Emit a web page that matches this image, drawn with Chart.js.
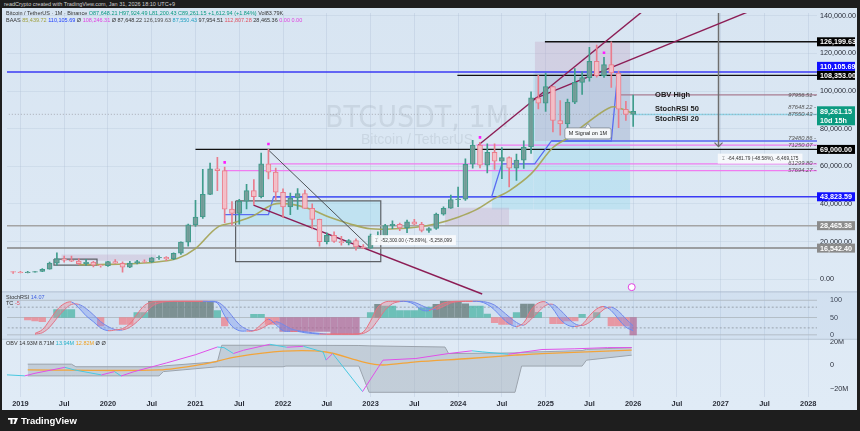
<!DOCTYPE html>
<html>
<head>
<meta charset="utf-8">
<script src="https://cdn.jsdelivr.net/npm/chart.js@4.4.1/dist/chart.umd.min.js"></script>
<style>
  body { margin: 0; width: 860px; height: 431px; background: #1e1e1e; overflow: hidden; position: relative;
         font-family: "Liberation Sans", Arial, sans-serif; }
  #wrap { position: absolute; left: 2px; top: 8px; width: 855px; height: 402px; background: linear-gradient(#d8e5f2, #e0ebf6); }
  .t { position: absolute; white-space: nowrap; font-size: 5.5px; color: #333; line-height: 6px; }
  #foot { position: absolute; left: 8px; top: 415px; color: #fff; font: bold 9.5px "Liberation Sans", Arial, sans-serif; }
  #foot i { display: inline-block; width: 10px; height: 6px; background: #fff; margin-right: 3px; vertical-align: 0; clip-path: polygon(0 0,45% 0,45% 100%,25% 100%,25% 30%,0 30%,0 0, 55% 0, 100% 0, 75% 100%, 55% 100%, 70% 30%); }
</style>
</head>
<body>
<div class="t" style="left:4px;top:1px;color:#cfcfcf;">readCrypto created with TradingView.com, Jan 31, 2026 18:10 UTC+9</div>
<div id="wrap"><canvas id="c" width="855" height="402"></canvas></div>
<div class="t" style="left:6px;top:10px;">Bitcoin / TetherUS · 1M · Binance <span style="color:#089981">O87,648.21 H97,924.49 L81,200.43 C89,261.15 +1,612.94 (+1.84%)</span> Vol83.79K</div>
<div class="t" style="left:6px;top:17px;">BAAS <span style="color:#a0a040">85,439.72</span> <span style="color:#2040ff">110,105.69</span> Ø <span style="color:#e040e0">108,246.31</span> Ø 87,648.22 <span style="color:#555">126,199.63</span> <span style="color:#20a0c0">87,550.43</span> 97,954.51 <span style="color:#e05060">112,807.28</span> 28,465.36 <span style="color:#e040e0">0.00 0.00</span></div>
<div class="t" style="left:6px;top:294px;">StochRSI <span style="color:#4060e0">14.07</span></div>
<div class="t" style="left:6px;top:300px;">TC <span style="color:#e05060">-5</span></div>
<div class="t" style="left:6px;top:340px;">OBV 14.93M 8.71M <span style="color:#20b0c8">13.94M</span> <span style="color:#f0a020">12.82M</span> Ø Ø</div>
<div id="foot"><i></i>TradingView</div>
<script>
// ---- monthly candles ----
const months = [
  '2018-12',
  '2019-01','2019-02','2019-03','2019-04','2019-05','2019-06','2019-07','2019-08','2019-09','2019-10','2019-11','2019-12',
  '2020-01','2020-02','2020-03','2020-04','2020-05','2020-06','2020-07','2020-08','2020-09','2020-10','2020-11','2020-12',
  '2021-01','2021-02','2021-03','2021-04','2021-05','2021-06','2021-07','2021-08','2021-09','2021-10','2021-11','2021-12',
  '2022-01','2022-02','2022-03','2022-04','2022-05','2022-06','2022-07','2022-08','2022-09','2022-10','2022-11','2022-12',
  '2023-01','2023-02','2023-03','2023-04','2023-05','2023-06','2023-07','2023-08','2023-09','2023-10','2023-11','2023-12',
  '2024-01','2024-02','2024-03','2024-04','2024-05','2024-06','2024-07','2024-08','2024-09','2024-10','2024-11','2024-12',
  '2025-01','2025-02','2025-03','2025-04','2025-05','2025-06','2025-07','2025-08','2025-09','2025-10','2025-11','2025-12',
  '2026-01'
]
const opens = [4017,
  3742, 3458, 3813, 4105, 5320, 8574, 10818, 10080, 9590, 8290, 9150, 7540,
  7190, 9370, 8520, 6410, 8620, 9450, 9140, 11350, 11650, 10780, 13790, 19700,
  28920, 33090, 45130, 58740, 57690, 37250, 35040, 41460, 47100, 43820, 61300, 56950,
  46220, 38470, 43160, 45510, 37630, 31800, 19940, 23300, 20050, 19420, 20490, 17160,
  16540, 23130, 23140, 28470, 29230, 27210, 30470, 29230, 25940, 26960, 34640, 37720,
  42280, 42580, 61130, 71290, 60670, 67490, 62770, 64630, 58970, 63330, 70290, 96410,
  93580, 102430, 84350, 82550, 94170, 104590, 107140, 115760, 108250, 114050, 109600, 90360,
  87648]
const highs = [4236,
  4140, 4200, 4140, 5600, 9100, 13970, 12250, 12330, 10950, 10540, 9520, 7750,
  9580, 10500, 9200, 9470, 10070, 10380, 11450, 12490, 12070, 14100, 19860, 29300,
  41950, 58350, 61780, 64850, 59600, 41330, 42450, 50500, 52920, 67000, 69000, 59100,
  47990, 45820, 48190, 47440, 40020, 31990, 24670, 25210, 22800, 21080, 21480, 18390,
  23950, 25250, 29180, 31000, 29820, 31430, 31800, 30200, 27480, 35200, 38450, 44730,
  48970, 63970, 73780, 72800, 71980, 71950, 70020, 65000, 66500, 73600, 99590, 108350,
  109590, 102500, 95000, 95760, 111980, 110400, 123220, 124470, 117900, 126200, 110600, 94600,
  97924]
const lows = [3156,
  3350, 3400, 3732, 4080, 5330, 7450, 9040, 9350, 7710, 7300, 6520, 6430,
  6850, 8420, 3780, 6150, 8100, 8830, 8890, 10520, 9880, 10370, 13200, 17570,
  28130, 32300, 44950, 47040, 30000, 28800, 29280, 37330, 39600, 43280, 53260, 42000,
  32920, 34320, 37150, 37700, 26700, 17620, 18780, 19520, 18120, 18190, 15480, 16260,
  16500, 21350, 19550, 26940, 25810, 24800, 28860, 25170, 24900, 26540, 34100, 37600,
  38550, 41880, 59000, 59190, 56550, 58400, 53500, 49000, 52550, 58900, 66840, 90500,
  89160, 78250, 76600, 74500, 93350, 98200, 105270, 107350, 107250, 102000, 80600, 84400,
  81200]
const closes = [3742,
  3458, 3813, 4105, 5320, 8574, 10818, 10080, 9590, 8290, 9150, 7540, 7190,
  9370, 8520, 6410, 8620, 9450, 9140, 11350, 11650, 10780, 13790, 19700, 28920,
  33090, 45130, 58740, 57690, 37250, 35040, 41460, 47100, 43820, 61300, 56950, 46220,
  38470, 43160, 45510, 37630, 31800, 19940, 23300, 20050, 19420, 20490, 17160, 16540,
  23130, 23140, 28470, 29230, 27210, 30470, 29230, 25940, 26960, 34640, 37720, 42280,
  42580, 61130, 71290, 60670, 67490, 62770, 64630, 58970, 63330, 70290, 96410, 93580,
  102430, 84350, 82550, 94170, 104590, 107140, 115760, 108250, 114050, 109600, 90360, 87648,
  89261]

// ---- overlays on price (x = months since 2019-01) ----
const maMonths = [8, 12, 16, 19, 21.5, 24, 27, 29.5, 32, 34.7, 37, 39.7, 42.4, 45.2, 48, 51.4, 54.2, 57, 60, 62.5, 65, 67, 70, 73, 75, 78, 81, 82.5, 84]
const maValues = [7700, 7900, 8400, 9300, 11000, 16300, 27600, 30300, 33900, 39900, 39900, 37300, 32900, 29400, 26800, 26800, 27600, 29500, 33000, 37000, 43000, 47000, 56000, 70000, 75000, 84000, 91500, 90500, 88000]
const stepMonths = [27.9, 34, 34.7, 64.6, 66, 70.5, 72.8, 81, 81.9, 82.6]
const stepValues = [34300, 34300, 43823.59, 43823.59, 61299.8, 61299.8, 73480.86, 73480.86, 110105.69, 110105.69]

const levels = [126199.63, 110105.69, 108353.00, 69000.00, 43823.59, 28465.36, 16542.40]
const levelFrom = [71.9, -2, 59.9, 24, 34.7, -2, -2]
const minorLevels = [97956.51, 87648.22, 87550.43, 73480.86, 71250.07, 61299.80, 57694.27]
const minorFrom = [82.1, -2, 83.9, 72.8, 62.5, 34.3, 28]
const lastPrice = 89261.15
const lastCountdown = '10d 15h'

const trendA = [[62.8, 71350], [86, 144600]]
const trendB = [[70, 95200], [100, 142500]]
const trendC = [[31.95, 39350], [63.3, -7850]]
const trendD = [[34, 68700], [47.85, 17200]]
const measure = [[95.7, 141500], [95.7, 70500]]

const pivotMonths = [28, 34, 63, 80]
const pivotPrices = [62100, 71900, 75400, 120400]

// [from month, to month, top, bottom]
const cyanBoxes = [[29.5, 49.4, 41600, 28500], [70.3, 83.6, 110100, 37000], [64.6, 70.3, 61300, 37000]]
const mauveBoxes = [[70.5, 83.6, 126200, 73500], [58.2, 67, 38000, 28500], [5.6, 18.6, 13200, 9800]]
const outlineBoxes = [[29.5, 49.4, 41600, 9400], [4.6, 10.5, 10700, 7500]]

// ---- StochRSI pane (aligned with months) ----
const stochK = [null, null, null, 4, 15, 42, 72, 90, 95, 78, 55, 38, 20,
  12, 14, 18, 32, 60, 85, 95, 97, 97, 97, 97, 97,
  97, 97, 96, 92, 55, 25, 12, 11, 12, 30, 45, 30,
  12, 10, 10, 6, 4, 2, 2, 2, 2, 2, 2, 8,
  40, 80, 95, 97, 97, 96, 88, 72, 70, 82, 92, 96,
  97, 97, 97, 96, 88, 72, 50, 32, 24, 35, 72, 92,
  95, 75, 45, 28, 24, 30, 55, 75, 82, 70, 45, 22,
  12]
const stochD = [null, null, null, 2, 6, 22, 48, 72, 88, 88, 76, 58, 38,
  24, 15, 14, 22, 38, 60, 82, 92, 96, 97, 97, 97,
  97, 97, 97, 95, 80, 55, 30, 16, 12, 18, 30, 38,
  30, 18, 12, 9, 6, 4, 2, 2, 2, 2, 2, 4,
  16, 42, 72, 90, 96, 97, 94, 85, 76, 74, 82, 92,
  96, 97, 97, 97, 94, 86, 70, 52, 36, 28, 45, 66,
  85, 88, 72, 50, 32, 27, 36, 55, 74, 80, 68, 46,
  26]
const stochHist = [null, null, 43, 40, 38, null, 73, 73, 73, null, null, null, 26,
  null, null, 30, 30, 64, 64, 97, 97, 97, 97, 97, 97,
  97, 97, 97, 70, 26, null, null, null, 59, 59, 30, 30,
  10, 10, 10, 10, 10, 10, 10, 2, 2, 2, 2, null,
  64, 88, 83, 83, 70, 70, 70, 78, 80, 88, 97, 97,
  97, 90, 83, 83, 60, 35, 30, 30, 64, 89, 89, 65,
  null, 32, 32, 40, 40, 59, null, 64, null, 26, 26, 26]
const stochLevels = [100, 80, 50, 20, 0]

// ---- OBV pane (millions) ----
const obvMonths = [-2, 0.6, 2, 6.1, 7.4, 11.1, 12.9, 13.8, 15.6, 20, 24, 27, 27.9, 29.2, 30.6, 34.2, 36.5, 38.8, 41.5, 41.9, 42.8, 46.9, 49.7, 54.2, 58.7, 61.9, 63.3, 66.9, 71.5, 76, 80.5, 83.8]
const obvValues = [-8, -8.9, -6.7, -1.7, -3.9, -8.1, -5.3, -9, -5.3, 2, 9, 15.5, 15, 10, 12.8, 17.8, 15.3, 16.1, 11.3, 4.4, 10, -22.2, 4.4, 5.8, 10, 12.3, 11.4, 9.4, 13.4, 14, 15, 15]
const obvMaMonths = [1, 19, 25.1, 29.6, 36, 41.9, 46.9, 49.7, 54.2, 61.5, 67.8, 71.5, 83.8]
const obvMaValues = [-3.9, -3.9, 1.1, 7.2, 12, 11.3, 3, 0.3, 3, 5.8, 8.6, 10, 12.8]
const bandMonths = [1, 7, 7.6, 19, 19.6, 27, 27.6, 36, 36.4, 46.4, 47.8, 58.2, 58.7, 67.8, 68.7, 77, 77.6, 83.8]
const bandUpper = [1, 1, -1.2, -1.2, -0.5, 3, 17, 17, 17, 16.8, 16.5, 15.5, 10, 10.5, 11, 12.5, 13.5, 15]
const bandLower = [-8.9, -8.9, -8.9, -8.9, -5.3, -1.2, -1.2, -1.2, -0.6, -0.6, -22.8, -22.8, -22.8, -22.8, -0.6, -0.6, 4.4, 8.6]

// ---------------------------------------------------------------
const mIdx = s => (+s.slice(0, 4) - 2019) * 12 + (+s.slice(5, 7) - 1)
const xs = months.map(mIdx)
const X_MIN = -1.84, X_MAX = 109.2
const pts = (ms, vs) => ms.map((m, i) => ({ x: m, y: vs[i] })).filter(p => p.y !== null)
const seg = pair => pair.map(p => ({ x: p[0], y: p[1] }))
const hline = (v, from) => [{ x: from, y: v }, { x: X_MAX + 1, y: v }]
const rect = b => [{ x: b[0], y: b[2] }, { x: b[1], y: b[2] }, { x: b[1], y: b[3] }, { x: b[0], y: b[3] }, { x: b[0], y: b[2] }]

const up = closes.map((c, i) => c >= opens[i])
const bodyFill = up.map(u => u ? 'rgba(120,155,152,0.85)' : 'rgba(244,196,204,0.9)')
const bodyLine = up.map(u => u ? '#3f9c8c' : '#e97c8c')

const line = (data, color, width, extra) => Object.assign({
  type: 'line', data, borderColor: color, borderWidth: width, pointRadius: 0, tension: 0,
  yAxisID: 'y', fill: false, order: 5
}, extra || {})

const datasets = []

cyanBoxes.forEach(b => datasets.push(line([{ x: b[0], y: b[2] }, { x: b[1], y: b[2] }], 'transparent', 0,
  { fill: { value: b[3] }, backgroundColor: 'rgba(140,215,235,0.35)', order: 20 })))
mauveBoxes.forEach(b => datasets.push(line([{ x: b[0], y: b[2] }, { x: b[1], y: b[2] }], 'transparent', 0,
  { fill: { value: b[3] }, backgroundColor: 'rgba(190,150,185,0.28)', order: 19 })))
outlineBoxes.forEach(b => datasets.push(line(rect(b), '#5d6166', 1.2, { order: 18 })))

levels.forEach((v, i) => {
  const colors = ['#111', '#3a3af5', '#111', '#111', '#3a3af5', '#a4a4a4', '#858585']
  datasets.push(line(hline(v, levelFrom[i]), colors[i], i === 5 || i === 6 ? 1.5 : 1.4, { order: 12 }))
})
minorLevels.forEach((v, i) => {
  const colors = ['#a87d92', '#9aa0a8', '#8fd6ea', '#5866f0', '#f07cf0', '#f07cf0', '#f07cf0']
  datasets.push(line(hline(v, minorFrom[i]), colors[i], i === 1 ? 0.8 : 1.3,
    { order: 12, borderDash: i === 1 ? [1, 2] : [] }))
})

datasets.push(line(pts(stepMonths, stepValues), '#5a6cf2', 1.3, { order: 9 }))
datasets.push(line(pts(maMonths, maValues), 'rgba(165,165,90,0.95)', 1.6, { order: 8, tension: 0.35 }))
datasets.push(line(seg(trendA), '#8c1d55', 1.4, { order: 7 }))
datasets.push(line(seg(trendB), '#8c1d55', 1.4, { order: 7 }))
datasets.push(line(seg(trendC), '#8c1d55', 1.4, { order: 7, clip: false }))
datasets.push(line(seg(trendD), '#4d5358', 1, { order: 7 }))
datasets.push(line(seg(measure), '#6e6e6e', 1.5, { order: 7 }))

datasets.push({
  type: 'bar', data: xs.map((x, i) => ({ x, y: [lows[i], highs[i]] })), yAxisID: 'y',
  backgroundColor: bodyLine, barThickness: 1, grouped: false, order: 3
})
datasets.push({
  type: 'bar', data: xs.map((x, i) => ({ x, y: [opens[i], closes[i]] })), yAxisID: 'y',
  backgroundColor: bodyFill, borderColor: bodyLine, borderWidth: 1, borderSkipped: false,
  barThickness: 5, grouped: false, order: 2
})
datasets.push({
  type: 'scatter', data: pts(pivotMonths, pivotPrices), yAxisID: 'y',
  pointStyle: 'rect', pointRadius: 1.8, backgroundColor: '#ff1aff', borderWidth: 0, order: 1
})
datasets.push({
  type: 'scatter', data: [{ x: 83.8, y: -4200 }], yAxisID: 'y', clip: false,
  pointStyle: 'circle', pointRadius: 3.5, backgroundColor: '#fff', borderColor: '#e040e0', borderWidth: 1, order: 1
})

// StochRSI
const histColor = v => v >= 85 ? 'rgba(110,130,130,0.85)' : v > 50 ? 'rgba(75,180,165,0.75)' : v > 15 ? 'rgba(240,120,130,0.7)' : 'rgba(175,100,145,0.7)'
datasets.push({
  type: 'bar', yAxisID: 'ys', grouped: false, barThickness: 6.6, order: 6,
  data: xs.map((x, i) => ({ x, y: stochHist[i] === null ? null : [50, stochHist[i]] })).filter(p => p.y !== null),
  backgroundColor: xs.map((x, i) => stochHist[i]).filter(v => v !== null).map(histColor)
})
stochLevels.forEach(v => datasets.push(line(hline(v, X_MIN - 1), v === 80 || v === 20 ? '#9aa3ad' : '#b3bcc6', 1,
  { yAxisID: 'ys', borderDash: v === 80 || v === 20 ? [2, 2] : [], order: 15 })))
const trendColor = ctx => ctx.p1.parsed.y >= ctx.p0.parsed.y ? '#e8707e' : '#6a88ef'
datasets.push(line(pts(xs, stochK), '#6a88ef', 1, {
  yAxisID: 'ys', tension: 0.35, order: 4, segment: { borderColor: trendColor },
  fill: { target: '+1', above: 'rgba(240,130,140,0.35)', below: 'rgba(110,140,240,0.35)' }
}))
datasets.push(line(pts(xs, stochD), '#e8707e', 1, { yAxisID: 'ys', tension: 0.35, order: 4, segment: { borderColor: trendColor } }))

// OBV
datasets.push(line(pts(bandMonths, bandUpper), '#9aa2ab', 1, {
  yAxisID: 'yo', order: 10, fill: { target: '+1' }, backgroundColor: 'rgba(160,170,182,0.45)'
}))
datasets.push(line(pts(bandMonths, bandLower), '#9aa2ab', 1, { yAxisID: 'yo', order: 10 }))
datasets.push(line(pts(obvMaMonths, obvMaValues), '#f2a43a', 1.3, { yAxisID: 'yo', order: 4, tension: 0.3 }))
datasets.push(line(pts(obvMonths, obvValues), '#e050e8', 1, {
  yAxisID: 'yo', order: 3,
  segment: { borderColor: ctx => ctx.p1.parsed.y >= ctx.p0.parsed.y ? '#e050e8' : '#48c8e0' }
}))

// ---------------------------------------------------------------
const fixSize = (w, h) => s => {
  if (w) s.width = w
  if (h) s.height = h
  s.paddingTop = 0; s.paddingBottom = 0; s.paddingLeft = 0; s.paddingRight = 0
}
const tickFont = { family: '"Liberation Sans", Arial, sans-serif', size: 7.2 }

const drawLabelBox = (ctx, y, h, bg, lines, x0, w) => {
  ctx.fillStyle = bg
  ctx.fillRect(x0, y - h / 2, w, h)
  ctx.fillStyle = '#fff'
  ctx.font = 'bold 7.2px "Liberation Sans", Arial, sans-serif'
  ctx.textAlign = 'left'
  ctx.textBaseline = 'middle'
  lines.forEach((t, k) => ctx.fillText(t, x0 + 3, y - (lines.length - 1) * 4.5 + k * 9 + 0.5))
}
const spread = items => {
  items.sort((a, b) => b.y - a.y)
  for (let k = 1; k < items.length; k++) {
    const lim = items[k - 1].y - (items[k - 1].h + items[k].h) / 2
    if (items[k].y > lim) items[k].y = lim
  }
  return items
}
const fmt = v => v.toLocaleString('en-US', { minimumFractionDigits: 2, maximumFractionDigits: 2 })

const overlay = {
  id: 'overlay',
  beforeDatasetsDraw(chart) {
    const { ctx, chartArea, scales } = chart
    const s = scales.ys, o = scales.yo
    ctx.save()
    ctx.fillStyle = 'rgba(150,180,215,0.16)'
    ctx.fillRect(0, s.top, chart.width, s.bottom - s.top)
    ctx.strokeStyle = 'rgba(150,165,185,0.55)'
    ctx.lineWidth = 1
    ctx.beginPath()
    ctx.moveTo(0, s.top + 0.5); ctx.lineTo(chart.width, s.top + 0.5)
    ctx.moveTo(0, o.top + 0.5); ctx.lineTo(chart.width, o.top + 0.5)
    ctx.stroke()
    // watermark
    const cx = (chartArea.left + chartArea.right) / 2 + 5
    ctx.textAlign = 'center'
    ctx.textBaseline = 'alphabetic'
    ctx.fillStyle = 'rgba(120,130,145,0.17)'
    ctx.font = '30px "Liberation Sans Narrow", "DejaVu Sans Condensed", "Liberation Sans", sans-serif'
    ctx.fillText('BTCUSDT, 1M', cx, 119)
    ctx.font = '14px "Liberation Sans", Arial, sans-serif'
    ctx.fillText('Bitcoin / TetherUS', cx, 136)
    ctx.restore()
  },
  afterDatasetsDraw(chart) {
    const { ctx, scales } = chart
    const X = scales.x, Y = scales.y
    ctx.save()
    // arrow head of the measure line
    const ax = X.getPixelForValue(measure[1][0]), ay = Y.getPixelForValue(measure[1][1])
    ctx.strokeStyle = '#6e6e6e'; ctx.lineWidth = 1.2
    ctx.beginPath(); ctx.moveTo(ax - 4, ay - 4); ctx.lineTo(ax, ay); ctx.lineTo(ax + 4, ay - 4); ctx.stroke()

    ctx.font = 'bold 7.5px "Liberation Sans", Arial, sans-serif'
    ctx.fillStyle = '#1a1a1a'
    ctx.textAlign = 'left'; ctx.textBaseline = 'middle'
    const tx = X.getPixelForValue(87)
    ctx.fillText('OBV High', tx, Y.getPixelForValue(minorLevels[0]))
    ctx.fillText('StochRSI 50', tx, Y.getPixelForValue(minorLevels[1]) - 5)
    ctx.fillText('StochRSI 20', tx, Y.getPixelForValue(minorLevels[2]) + 4)

    // callout
    const callX = X.getPixelForValue(77.8), callY = Y.getPixelForValue(77500)
    ctx.font = '5.5px "Liberation Sans", Arial, sans-serif'
    const cw = ctx.measureText('M Signal on 1M').width + 8
    ctx.fillStyle = '#f4f7fa'; ctx.strokeStyle = '#7d8790'; ctx.lineWidth = 0.8
    ctx.beginPath()
    ctx.roundRect(callX - cw / 2, callY - 5.5, cw, 11, 2)
    ctx.fill(); ctx.stroke()
    ctx.beginPath(); ctx.moveTo(callX - 3, callY - 5.5); ctx.lineTo(callX, callY - 10); ctx.lineTo(callX + 3, callY - 5.5)
    ctx.fill(); ctx.stroke()
    ctx.fillStyle = '#222'; ctx.textAlign = 'center'
    ctx.fillText('M Signal on 1M', callX, callY + 0.5)

    // measurement notes
    const notes = [[53.9, 20800, '\u2336  -52,300.00 (-75.89%), -5,258,099'], [101.4, 64100, '\u2336  -64,481.79 (-48.58%), -6,469,175']]
    ctx.font = '4.8px "Liberation Sans", Arial, sans-serif'
    notes.forEach(n => {
      const nx = X.getPixelForValue(n[0]), ny = Y.getPixelForValue(n[1])
      const w = ctx.measureText(n[2]).width + 8
      ctx.fillStyle = 'rgba(248,250,252,0.92)'
      ctx.fillRect(nx - w / 2, ny - 5, w, 10)
      ctx.fillStyle = '#333'
      ctx.fillText(n[2], nx, ny + 0.5)
    })
    ctx.restore()
  },
  afterDraw(chart) {
    const { ctx, chartArea, scales } = chart
    const Y = scales.y
    const x0 = chartArea.right, w = chart.width - chartArea.right - 2
    ctx.save()
    // small value notes next to the scale
    const minor = spread(minorLevels.map(v => ({ v, y: Y.getPixelForValue(v), h: 7 })))
    ctx.font = 'italic 5.8px "Liberation Sans", Arial, sans-serif'
    ctx.textAlign = 'right'; ctx.textBaseline = 'middle'
    ctx.fillStyle = '#555'
    minor.forEach(m => ctx.fillText(m.v.toFixed(2) + ' -', x0 - 1, m.y))
    // scale labels
    const boxColors = ['#000', '#1010ff', '#000', '#000', '#1010ff', '#8b8b8b', '#8b8b8b']
    const items = levels.map((v, i) => ({ y: Y.getPixelForValue(v), h: 9, bg: boxColors[i], lines: [fmt(v)] }))
    items.push({ y: Y.getPixelForValue(lastPrice) + 4.5, h: 19, bg: '#0b9a80', lines: [fmt(lastPrice), lastCountdown] })
    spread(items).forEach(it => drawLabelBox(ctx, it.y, it.h, it.bg, it.lines, x0, w))
    ctx.restore()
  }
}

new Chart('c', {
  type: 'line',
  data: { datasets },
  plugins: [overlay],
  options: {
    responsive: false,
    devicePixelRatio: 1,
    animation: false,
    events: [],
    layout: { padding: 0 },
    plugins: { legend: { display: false }, tooltip: { enabled: false } },
    scales: {
      x: {
        type: 'linear', min: X_MIN, max: X_MAX, offset: false,
        grid: { color: 'rgba(150,170,195,0.22)', drawTicks: false, offset: false },
        border: { display: false },
        afterBuildTicks: s => { s.ticks = [0, 6, 12, 18, 24, 30, 36, 42, 48, 54, 60, 66, 72, 78, 84, 90, 96, 102, 108].map(value => ({ value })) },
        afterFit: fixSize(0, 13),
        ticks: {
          padding: 3, maxRotation: 0, autoSkip: false, color: '#2a2e39',
          font: { family: tickFont.family, size: 7.4, weight: 'bold' },
          callback: v => v % 12 === 0 ? String(2019 + v / 12) : 'Jul'
        }
      },
      y: {
        type: 'linear', position: 'right', stack: 'panes', stackWeight: 282,
        min: -6450, max: 141500,
        grid: { color: 'rgba(150,170,195,0.18)', drawTicks: false },
        border: { display: false },
        afterBuildTicks: s => { s.ticks = [0, 10000, 20000, 30000, 40000, 50000, 60000, 70000, 80000, 90000, 100000, 110000, 120000, 130000, 140000].map(value => ({ value })) },
        afterFit: fixSize(40, 0),
        ticks: { padding: 3, color: '#2a2e39', font: tickFont, callback: v => fmt(v) }
      },
      ys: {
        type: 'linear', position: 'right', stack: 'panes', stackWeight: 48,
        min: -11.4, max: 125.7,
        grid: { display: false }, border: { display: false },
        afterBuildTicks: s => { s.ticks = [0, 50, 100].map(value => ({ value })) },
        afterFit: fixSize(40, 0),
        ticks: { padding: 5, color: '#2a2e39', font: tickFont }
      },
      yo: {
        type: 'linear', position: 'right', stack: 'panes', stackWeight: 59,
        min: -26.8, max: 22.5,
        grid: { display: false }, border: { display: false },
        afterBuildTicks: s => { s.ticks = [-20, 0, 20].map(value => ({ value })) },
        afterFit: fixSize(40, 0),
        ticks: { padding: 5, color: '#2a2e39', font: tickFont, callback: v => v === 0 ? '0' : (v < 0 ? '\u221220M' : '20M') }
      }
    }
  }
})
</script>
</body>
</html>
